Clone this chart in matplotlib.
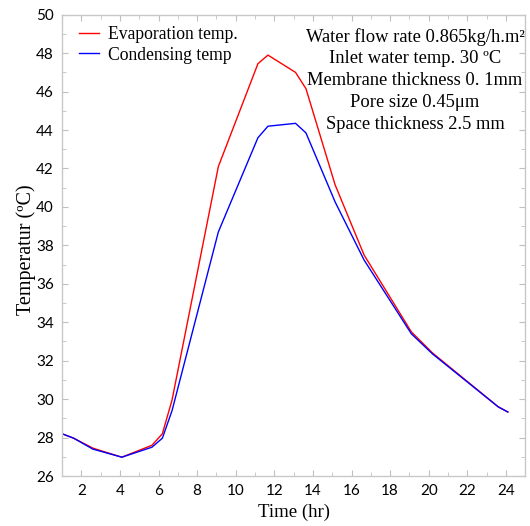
import matplotlib
matplotlib.use("Agg")
import matplotlib.pyplot as plt  # noqa: E402
from matplotlib.ticker import MultipleLocator  # noqa: E402

# values
time_hr = [1.0, 1.6, 2.6, 4.1, 5.66, 6.2, 6.7, 9.1, 11.15, 11.67, 13.1, 13.64,
           15.15, 16.65, 19.1, 20.2, 23.6, 24.1]
evap_temp = [28.2, 27.97, 27.45, 26.98, 27.6, 28.2, 29.95, 42.1, 47.45, 47.9, 47.0, 46.15,
             41.15, 37.5, 33.5, 32.4, 29.6, 29.33]
cond_temp = [28.2, 27.97, 27.4, 26.98, 27.5, 27.97, 29.4, 38.7, 43.6, 44.2, 44.35, 43.85,
             40.26, 37.24, 33.4, 32.35, 29.6, 29.33]

notes = [
    "Water flow rate 0.865kg/h.m\u00b2",
    "Inlet water temp. 30 \u00baC",
    "Membrane thickness 0. 1mm",
    "Pore size 0.45\u03bcm",
    "Space thickness 2.5 mm",
]

serif = ["Liberation Serif", "DejaVu Serif"]

fig = plt.figure(figsize=(5.3, 5.26), dpi=100)
ax = fig.add_axes([0.117, 0.095, 0.874, 0.877])

ax.plot(time_hr, evap_temp, color="#ff0000", lw=1.0, label="Evaporation temp.")
ax.plot(time_hr, cond_temp, color="#0000ff", lw=1.0, label="Condensing temp")

ax.set_xlim(1, 25)
ax.set_ylim(26, 50)
ax.xaxis.set_major_locator(MultipleLocator(2))
ax.xaxis.set_minor_locator(MultipleLocator(1))
ax.yaxis.set_major_locator(MultipleLocator(2))
ax.yaxis.set_minor_locator(MultipleLocator(1))
ax.tick_params(which="both", direction="in", top=True, right=True,
               color="#bfbfbf", labelsize=11, labelcolor="black", pad=6)
ax.tick_params(which="major", length=4)
ax.tick_params(which="minor", length=3)
for lab in ax.get_xticklabels() + ax.get_yticklabels():
    lab.set_family("Lato")
for s in ax.spines.values():
    s.set_color("#c8c8c8")
    s.set_linewidth(1.0)

ax.set_xlabel("Time (hr)", family=serif, fontsize=13.5, labelpad=4)
ax.set_ylabel("Temperatur (\u00baC)", family=serif, fontsize=14.5)
ax.yaxis.set_label_coords(-0.057, 0.49)

ax.legend(loc="upper left", frameon=False, prop={"family": serif, "size": 12.7},
          handlelength=1.1, handletextpad=0.55, labelspacing=0.18,
          borderaxespad=0.0, bbox_to_anchor=(0.022, 0.99))

for i, line in enumerate(notes):
    ax.text(0.762, 0.952 - i * 0.0477, line, transform=ax.transAxes, ha="center",
            va="center", family=serif, fontsize=13.3)

fig.savefig("out.png", dpi=100)
